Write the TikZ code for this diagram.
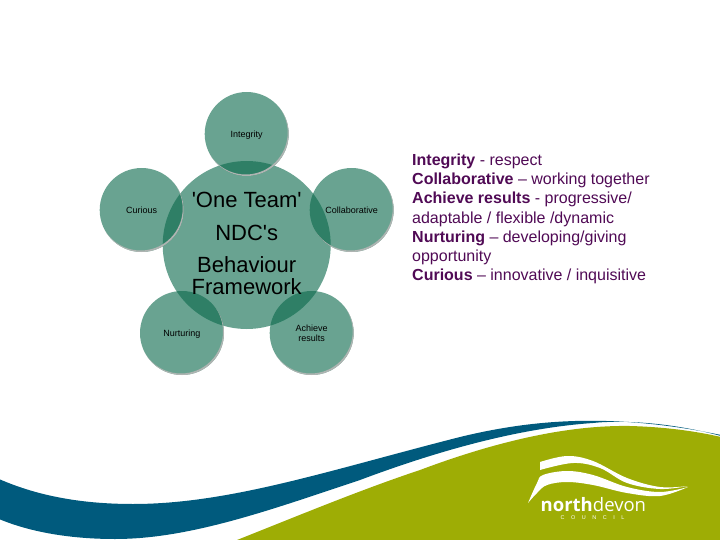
\documentclass[tikz,border=0pt]{standalone}
\usepackage{fontspec}
\setmainfont{Liberation Sans}
\newfontfamily\plainfont{Liberation Sans}
\newfontfamily\logofont{Open Sans}
\definecolor{petal}{RGB}{10,105,75}
\definecolor{rimgrey}{RGB}{175,180,178}
\definecolor{bandblue}{RGB}{0,90,125}
\definecolor{bandgreen}{RGB}{158,173,5}
\definecolor{plum}{RGB}{80,10,85}
\tikzset{
  petalc/.style={circle,minimum size=84pt,inner sep=0pt,fill=petal,fill opacity=.61,text opacity=1,font=\fontsize{9}{10}\selectfont,align=center},
  hubc/.style={circle,minimum size=168pt,inner sep=0pt,fill=petal,fill opacity=.61},
  hubtext/.style={font=\plainfont\fontsize{22}{24}\selectfont,align=center,inner sep=0pt},
  notes/.style={anchor=north west,inner sep=0pt,text=plum,align=left,font=\fontsize{16}{19.25}\selectfont},
  small/.style={font=\fontsize{9}{10}\selectfont,inner sep=0pt,align=center},
}
\newcommand{\rim}[3]{\begin{scope}\clip (#1,#2) circle (#3);\fill[rimgrey,even odd rule] (#1,#2) circle (#3+1) (#1-1,#2-1.5) circle (#3);\end{scope}}
\begin{document}
\begin{tikzpicture}[x=1pt,y=-1pt]
\useasboundingbox (0,0) rectangle (720,540);
% bands
\fill[bandblue] (-1,479) .. controls (40,497) and (85,504) .. (133,504) .. controls (230,504) and (330,470) .. (460,437) .. controls (530,420) and (610,412) .. (721,435)
  -- (721,436) .. controls (670,422) and (620,420) .. (593,423) .. controls (520,428) and (440,450) .. (360,480) .. controls (270,510) and (190,539) .. (115,539) .. controls (70,539) and (30,532) .. (-1,519) -- cycle;
\fill[bandgreen] (237,541) -- (237,540) .. controls (300,515) and (360,490) .. (420,470) .. controls (500,440) and (570,425) .. (630,426) .. controls (665,427) and (695,431) .. (721,437) -- (721,541) -- cycle;
% logo
\fill[white] plot[smooth,tension=.6] coordinates {(540,462) (567,456) (593,461) (627,478) (660,487) (688,486)}
  -- plot[smooth,tension=.6] coordinates {(688,486) (660,489) (627,483) (600,468) (573,463) (540,470)} -- cycle;
\fill[white] plot[smooth,tension=.6] coordinates {(528,503) (537,483) (543,475) (567,471) (593,475) (627,487) (660,492) (688,487)}
  -- plot[smooth,tension=.6] coordinates {(688,487) (660,496) (627,493) (593,485) (567,482) (547,485) (537,493) (528,503)} -- cycle;
\node[inner sep=0pt,anchor=base west,text=white,font=\logofont] (logoname) at (540.5,511.5) {\fontsize{18.5}{20}\selectfont\textbf{north}devon};
\node[inner sep=0pt,anchor=base,text=white] (logocouncil) at (592.5,519.5) {\fontsize{5.5}{6}\selectfont C\hspace{6.5pt}O\hspace{6.5pt}U\hspace{6.5pt}N\hspace{6.5pt}C\hspace{6.5pt}I\hspace{6.5pt}L};
% circles
\node[hubc] (hub) at (246.7,245) {};
\node[petalc] (integrity) at (246.7,134) {};
\node[petalc] (collab) at (351.7,210) {};
\node[petalc] (achieve) at (311.7,333) {};
\node[petalc] (nurturing) at (182,333) {};
\node[petalc] (curious) at (141.7,210) {};
\rim{246.7}{134}{42}
\rim{351.7}{210}{42}
\rim{311.7}{333}{42}
\rim{182}{333}{42}
\rim{141.7}{210}{42}
\node[small,text depth=0pt] (lint) at (integrity) {Integrity};
\node[small] (lcol) at (collab) {Collaborative};
\node[small] (lach) at (achieve) {Achieve\\results};
\node[small,text depth=0pt] (lnur) at (nurturing) {Nurturing};
\node[small] (lcur) at (curious) {Curious};
\node[hubtext] (t1) at (246.7,200) {'One Team'};
\node[hubtext] (t2) at (246.7,233) {NDC's};
\node[hubtext] (t3) at (246.7,265) {Behaviour};
\node[hubtext] (t4) at (246.7,287) {Framework};
\node[notes] (legend) at (412,153.5) {\textbf{Integrity} - respect\\
\textbf{Collaborative} – working together\\
\textbf{Achieve results} - progressive/\\
adaptable / flexible /dynamic\\
\textbf{Nurturing} – developing/giving\\
opportunity\\
\textbf{Curious} – innovative / inquisitive};
\end{tikzpicture}
\end{document}
